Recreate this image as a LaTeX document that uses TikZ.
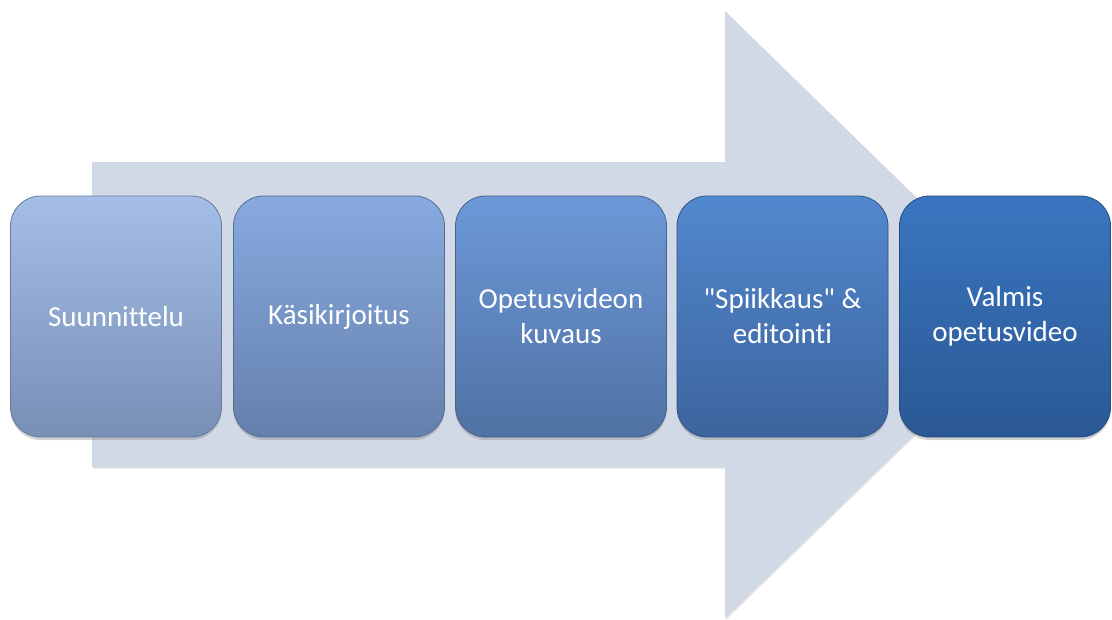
\documentclass[tikz,border=0pt]{standalone}
\usepackage{fontspec}
\setmainfont{Carlito}[Ligatures={NoCommon}]
\newfontfamily\boxfont{Carlito}[Ligatures=NoCommon]
\usetikzlibrary{shadows}
\definecolor{arrowfill}{RGB}{209,216,230}
\definecolor{t1}{RGB}{164,190,231}\definecolor{b1}{RGB}{120,143,182}
\definecolor{t2}{RGB}{136,170,224}\definecolor{b2}{RGB}{100,128,172}
\definecolor{t3}{RGB}{108,152,216}\definecolor{b3}{RGB}{80,114,164}
\definecolor{t4}{RGB}{82,136,206}\definecolor{b4}{RGB}{60,100,158}
\definecolor{t5}{RGB}{58,118,192}\definecolor{b5}{RGB}{42,88,148}
\tikzset{
  stepbox/.style={rounded corners=30pt, minimum width=211pt, minimum height=241pt,
    text=white, font=\boxfont\fontsize{29}{35}\selectfont, align=center, inner sep=0pt,
    draw=#1!85!black, line width=0.8pt,
    drop shadow={shadow xshift=0pt, shadow yshift=-3pt, opacity=0.35}},
  bigarrow/.style={fill=arrowfill, draw=none,
    drop shadow={shadow xshift=1pt, shadow yshift=-1.5pt, opacity=0.25}}
}
\begin{document}
\begin{tikzpicture}[x=1pt,y=-1pt]
\useasboundingbox (0,0) rectangle (1112,619);
\coordinate (a1) at (92,162);
\coordinate (a2) at (725,162);
\coordinate (a3) at (725,11);
\coordinate (a4) at (1037,315);
\coordinate (a5) at (725,618);
\coordinate (a6) at (725,467);
\coordinate (a7) at (92,467);
\path[bigarrow] (a1) -- (a2) -- (a3) -- (a4) -- (a5) -- (a6) -- (a7) -- cycle;
\node[stepbox=b1, top color=t1, bottom color=b1] (s1) at (116,316.5) {Suunnittelu};
\node[stepbox=b2, top color=t2, bottom color=b2] (s2) at (339,316.5) {Käsikirjoitus};
\node[stepbox=b3, top color=t3, bottom color=b3] (s3) at (561,316.5) {Opetusvideon\\kuvaus};
\node[stepbox=b4, top color=t4, bottom color=b4] (s4) at (782.5,316.5) {"Spiikkaus" \&\\editointi};
\node[stepbox=b5, top color=t5, bottom color=b5] (s5) at (1005,316.5) {Valmis\\opetusvideo};
\end{tikzpicture}
\end{document}
